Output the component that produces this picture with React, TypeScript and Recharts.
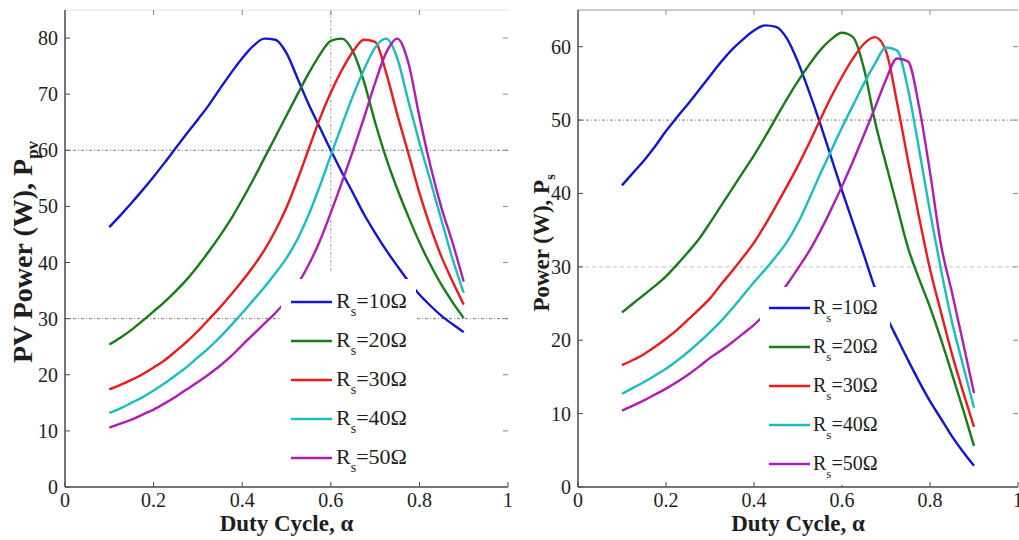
import React from "react";
import { LineChart, Line, XAxis, YAxis, ReferenceLine, Legend, Label } from "recharts";

const FONT = '"Liberation Serif", "Times New Roman", serif';
const INK = "#1e1e1e";
const AXIS = "#4a4a4a";

// duty cycle grid shared by every curve
const ALPHA = [
  0.1, 0.125, 0.15, 0.175, 0.2, 0.225, 0.25, 0.275, 0.3, 0.325, 0.35, 0.375, 0.4, 0.425, 0.45, 0.475, 0.5,
  0.525, 0.55, 0.575, 0.6, 0.625, 0.65, 0.675, 0.7, 0.725, 0.75, 0.775, 0.8, 0.825, 0.85, 0.875, 0.9,
];

// PV power P_pv (W), left panel
const PV_R10 = [46.3, 48.4, 50.6, 52.9, 55.3, 57.8, 60.4, 63.0, 65.5, 68.1, 71.0, 73.8, 76.4, 78.6, 79.9, 79.7, 77.3, 72.8, 68.2, 64.1, 60.0, 56.1, 52.4, 48.6, 45.3, 42.2, 39.4, 36.7, 34.3, 32.3, 30.5, 29.0, 27.6];
const PV_R20 = [25.4, 26.6, 28.0, 29.6, 31.3, 33.0, 34.9, 37.0, 39.4, 42.0, 44.8, 47.8, 51.2, 54.8, 58.6, 62.4, 66.2, 70.0, 73.7, 77.0, 79.5, 79.9, 77.6, 72.2, 65.0, 58.6, 53.1, 48.2, 43.6, 39.6, 36.0, 32.9, 30.1];
const PV_R30 = [17.4, 18.2, 19.1, 20.1, 21.3, 22.6, 24.2, 25.9, 27.8, 29.9, 32.0, 34.3, 36.7, 39.3, 42.2, 45.7, 49.8, 54.8, 60.2, 65.6, 70.3, 74.3, 77.6, 79.7, 79.3, 73.8, 66.4, 59.5, 52.4, 46.3, 41.0, 36.6, 32.5];
const PV_R40 = [13.2, 14.0, 15.0, 16.0, 17.2, 18.5, 19.9, 21.4, 23.1, 24.8, 26.7, 28.8, 31.0, 33.3, 35.6, 38.1, 40.8, 44.2, 48.5, 53.6, 59.1, 64.5, 69.7, 74.4, 78.3, 79.9, 76.4, 68.8, 61.4, 54.5, 47.5, 40.6, 34.6];
const PV_R50 = [10.6, 11.3, 12.0, 12.9, 13.8, 14.9, 16.1, 17.4, 18.7, 20.1, 21.6, 23.3, 25.3, 27.2, 29.1, 31.0, 33.3, 36.1, 39.6, 43.8, 48.9, 54.3, 59.9, 65.8, 72.0, 77.4, 79.9, 75.6, 66.0, 57.2, 49.7, 43.5, 36.6];

// output power P_s (W), right panel
const PS_R10 = [41.1, 42.8, 44.5, 46.4, 48.5, 50.4, 52.2, 54.1, 56.0, 57.9, 59.6, 61.0, 62.2, 62.9, 62.7, 61.1, 57.9, 53.9, 49.6, 45.0, 40.4, 36.0, 31.6, 27.1, 23.4, 20.3, 17.3, 14.4, 11.7, 9.3, 6.9, 4.8, 2.9];
const PS_R20 = [23.8, 25.0, 26.2, 27.4, 28.7, 30.3, 32.0, 33.8, 36.0, 38.3, 40.6, 42.9, 45.2, 47.7, 50.3, 52.9, 55.3, 57.5, 59.5, 61.0, 61.9, 61.3, 57.0, 49.8, 44.0, 38.3, 32.6, 28.4, 24.5, 20.1, 15.4, 10.6, 5.6];
const PS_R30 = [16.6, 17.3, 18.1, 19.1, 20.2, 21.4, 22.8, 24.2, 25.7, 27.6, 29.4, 31.3, 33.3, 35.7, 38.3, 41.0, 43.8, 46.8, 50.0, 53.1, 55.9, 58.4, 60.4, 61.3, 59.4, 52.4, 44.5, 36.8, 29.7, 23.8, 18.1, 13.0, 8.2];
const PS_R40 = [12.7, 13.5, 14.3, 15.2, 16.1, 17.2, 18.4, 19.7, 21.1, 22.6, 24.3, 26.1, 27.9, 29.6, 31.4, 33.4, 36.0, 39.2, 42.6, 45.8, 49.0, 52.0, 55.0, 57.7, 59.9, 59.5, 54.2, 46.1, 37.5, 29.6, 22.5, 16.6, 10.8];
const PS_R50 = [10.4, 11.1, 11.8, 12.6, 13.4, 14.3, 15.3, 16.4, 17.6, 18.6, 19.7, 20.9, 22.1, 23.6, 25.5, 27.6, 29.8, 32.1, 34.8, 37.8, 41.0, 44.4, 48.0, 51.7, 55.5, 58.4, 58.0, 51.9, 42.9, 33.0, 26.5, 19.7, 12.8];

const RS_LABELS = ["=10Ω", "=20Ω", "=30Ω", "=40Ω", "=50Ω"];
const COLORS = ["#1414d6", "#177d17", "#ec1b1b", "#1cbdbd", "#b01cb6"];

const X_TICKS = [0, 0.2, 0.4, 0.6, 0.8, 1];
const PV_TICKS = [0, 10, 20, 30, 40, 50, 60, 70, 80];
const PS_TICKS = [0, 10, 20, 30, 40, 50, 60];

function buildRows(series: number[][]) {
  return ALPHA.map((a, i) => {
    const row: Record<string, number> = { a };
    series.forEach((s, k) => {
      row[`s${k}`] = s[i];
    });
    return row;
  });
}

const pvRows = buildRows([PV_R10, PV_R20, PV_R30, PV_R40, PV_R50]);
const psRows = buildRows([PS_R10, PS_R20, PS_R30, PS_R40, PS_R50]);

const fmtX = (v: number) => (v === 0 || v === 1 ? String(v) : v.toFixed(1));

const bottomTick = (p: any) => (
  <g>
    <line x1={p.x} x2={p.x} y1={p.y} y2={p.y - 5} stroke={AXIS} />
    <text x={p.x} y={p.y + 20} textAnchor="middle" fontSize={20} fontFamily={FONT} fill={INK}>
      {fmtX(p.payload.value)}
    </text>
  </g>
);

const leftTick = (p: any) => (
  <g>
    <line x1={p.x} x2={p.x + 5} y1={p.y} y2={p.y} stroke={AXIS} />
    <text x={p.x - 7} y={p.y + 7} textAnchor="end" fontSize={20} fontFamily={FONT} fill={INK}>
      {p.payload.value}
    </text>
  </g>
);

const topTick = (p: any) =>
  p.payload.value === 0 || p.payload.value === 1 ? <g /> : <line x1={p.x} x2={p.x} y1={p.y} y2={p.y + 5} stroke="#888" />;

const rightTick = (p: any) =>
  p.payload.value === 0 ? <g /> : <line x1={p.x} x2={p.x - 5} y1={p.y} y2={p.y} stroke="#888" />;

type LegendCfg = {
  left: number;
  top: number;
  width: number;
  height: number;
  rowTop: number;
  lineX1: number;
  lineX2: number;
  textX: number;
  fontSize: number;
  subSize: number;
};

function LegendSvg({ cfg }: { cfg: LegendCfg }) {
  return (
    <svg width={cfg.width} height={cfg.height} style={{ display: "block" }}>
      {COLORS.map((c, i) => {
        const y = cfg.rowTop + i * 39;
        return (
          <g key={c}>
            <line x1={cfg.lineX1} x2={cfg.lineX2} y1={y} y2={y} stroke={c} strokeWidth={2.5} />
            <text x={cfg.textX} y={y + 6} fontSize={cfg.fontSize} fontFamily={FONT} fill={INK}>
              R
              <tspan fontSize={cfg.subSize} dy={8}>
                s
              </tspan>
              <tspan dy={-8}>{RS_LABELS[i]}</tspan>
            </text>
          </g>
        );
      })}
    </svg>
  );
}

type PanelProps = {
  left: number;
  width: number;
  marginLeft: number;
  marginRight: number;
  rows: Record<string, number>[];
  yMax: number;
  yTicks: number[];
  topLine: string;
  yLabel: { x: number; y: number; size: number; main: string; sub: string };
  xLabelX: number;
  legend: LegendCfg;
  children?: React.ReactNode;
};

function Panel(props: PanelProps) {
  const { rows, yMax, yTicks, legend, yLabel } = props;
  return (
    <div style={{ position: "absolute", left: props.left, top: 0 }}>
      <LineChart
        width={props.width}
        height={540}
        data={rows}
        margin={{ top: 9, right: props.marginRight, bottom: 23, left: props.marginLeft }}
      >
        <XAxis
          xAxisId="b"
          dataKey="a"
          type="number"
          domain={[0, 1]}
          ticks={X_TICKS}
          height={30}
          tickSize={0}
          tickMargin={0}
          tickLine={false}
          tick={bottomTick}
          axisLine={{ stroke: AXIS, strokeWidth: 1.5 }}
          interval={0}
        >
          <Label
            content={() => (
              <text x={props.xLabelX} y={531} textAnchor="middle" fontSize={23} fontWeight="bold" fontFamily={FONT} fill={INK}>
                Duty Cycle, α
              </text>
            )}
          />
        </XAxis>
        <XAxis
          xAxisId="t"
          dataKey="a"
          orientation="top"
          type="number"
          domain={[0, 1]}
          allowDataOverflow
          ticks={X_TICKS}
          height={1}
          tickSize={0}
          tickMargin={0}
          tickLine={false}
          tick={topTick}
          axisLine={{ stroke: props.topLine }}
          interval={0}
        />
        <YAxis
          yAxisId="l"
          type="number"
          domain={[0, yMax]}
          ticks={yTicks}
          width={45}
          tickSize={0}
          tickMargin={0}
          tickLine={false}
          tick={leftTick}
          axisLine={{ stroke: AXIS, strokeWidth: 1.5 }}
          interval={0}
        >
          <Label
            content={() => (
              <text
                transform={`translate(${yLabel.x},${yLabel.y}) rotate(-90)`}
                textAnchor="middle"
                fontSize={yLabel.size}
                fontWeight="bold"
                fontFamily={FONT}
                fill={INK}
              >
                {yLabel.main}
                <tspan fontSize={Math.round(yLabel.size * 0.62)} dy={6}>
                  {yLabel.sub}
                </tspan>
              </text>
            )}
          />
        </YAxis>
        <YAxis
          yAxisId="r"
          orientation="right"
          type="number"
          domain={[0, yMax]}
          allowDataOverflow
          ticks={yTicks}
          width={1}
          tickSize={0}
          tickMargin={0}
          tickLine={false}
          tick={rightTick}
          axisLine={false}
          interval={0}
        />
        {props.children}
        {COLORS.map((c, k) => (
          <Line
            key={c}
            xAxisId="b"
            yAxisId="l"
            type="monotone"
            dataKey={`s${k}`}
            stroke={c}
            strokeWidth={2.4}
            dot={false}
            isAnimationActive={false}
          />
        ))}
        <Legend
          layout="horizontal"
          verticalAlign="middle"
          align="center"
          wrapperStyle={{
            left: legend.left,
            top: legend.top,
            width: legend.width,
            height: legend.height,
            background: "#fff",
            margin: 0,
            padding: 0,
          }}
          content={() => <LegendSvg cfg={legend} />}
        />
      </LineChart>
    </div>
  );
}

const dashDot = "3 2 1 2";

export default function App() {
  return (
    <div style={{ position: "absolute", left: 0, top: 0, width: 1019, height: 540, background: "#fff" }}>
      <Panel
        left={0}
        width={520}
        marginLeft={20}
        marginRight={11}
        rows={pvRows}
        yMax={85}
        yTicks={PV_TICKS}
        topLine="#e4e4e4"
        yLabel={{ x: 32, y: 252, size: 28, main: "PV Power (W), P", sub: "pv" }}
        xLabelX={286.5}
        legend={{ left: 281, top: 279, width: 135, height: 198, rowTop: 23, lineX1: 10, lineX2: 51, textX: 55, fontSize: 22, subSize: 14 }}
      >
        <ReferenceLine xAxisId="b" yAxisId="l" y={60} stroke="#777" strokeDasharray={dashDot} />
        <ReferenceLine xAxisId="b" yAxisId="l" y={30} stroke="#777" strokeDasharray={dashDot} />
        <ReferenceLine
          xAxisId="b"
          yAxisId="l"
          segment={[
            { x: 0.6, y: 38.5 },
            { x: 0.6, y: 85 },
          ]}
          stroke="#999"
          strokeDasharray={dashDot}
        />
      </Panel>
      <Panel
        left={510}
        width={509}
        marginLeft={23}
        marginRight={0}
        rows={psRows}
        yMax={65}
        yTicks={PS_TICKS}
        topLine="#9a9a9a"
        yLabel={{ x: 39, y: 243, size: 23, main: "Power (W), P", sub: "s" }}
        xLabelX={288}
        legend={{ left: 250, top: 287, width: 130, height: 198, rowTop: 21, lineX1: 9, lineX2: 50, textX: 53, fontSize: 20, subSize: 13 }}
      >
        <ReferenceLine xAxisId="b" yAxisId="l" y={50} stroke="#777" strokeDasharray={dashDot} />
        <ReferenceLine xAxisId="b" yAxisId="l" y={30} stroke="#c4c4c4" strokeDasharray="4 3" />
      </Panel>
    </div>
  );
}
